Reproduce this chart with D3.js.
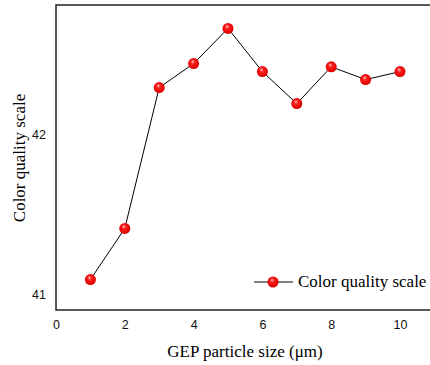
<!DOCTYPE html>
<html><head><meta charset="utf-8">
<script src="https://cdn.jsdelivr.net/npm/d3@7"></script>
<style>body{margin:0;background:#fff}svg{display:block}</style>
</head><body>
<svg id="c" width="430" height="365"></svg>
<script>
const sizes = [1,2,3,4,5,6,7,8,9,10];
const quality = [41.09,41.41,42.29,42.44,42.66,42.39,42.19,42.42,42.34,42.39];
const xTicks = [0,2,4,6,8,10];
const yTicks = [41,42];
const seriesName = "Color quality scale";
const xTitle = "GEP particle size (\u03bcm)";
const yTitle = "Color quality scale";

const svg = d3.select("#c");
const L = 56, T = 5, B = 310;
const x = d3.scaleLinear().domain([0,10]).range([L,400]);
const y = d3.scaleLinear().domain([41,42]).range([294,134]);

const defs = svg.append("defs");
const g = defs.append("radialGradient").attr("id","ball").attr("cx","0.5").attr("cy","0.5").attr("r","0.6").attr("fx","0.4").attr("fy","0.3");
g.append("stop").attr("offset","0").attr("stop-color","#ffd0d0");
g.append("stop").attr("offset","0.3").attr("stop-color","#ff2020");
g.append("stop").attr("offset","0.8").attr("stop-color","#e00000");
g.append("stop").attr("offset","1").attr("stop-color","#b00000");

// frame
svg.append("rect").attr("x",L).attr("y",T).attr("width",440-L).attr("height",B-T)
  .attr("fill","none").attr("stroke","#222").attr("stroke-width",1.5);

// axes (labels only)
const xAxis = d3.axisBottom(x).tickValues(xTicks).tickSize(0).tickPadding(10).tickFormat(d3.format("d"));
const gx = svg.append("g").attr("transform",`translate(0,${B})`).call(xAxis);
gx.select(".domain").remove();
gx.selectAll("text").attr("font-family","Liberation Sans, Arial, sans-serif").attr("font-size",12.5).attr("fill","#111");

const yAxis = d3.axisLeft(y).tickValues(yTicks).tickSize(0).tickPadding(10).tickFormat(d3.format("d"));
const gy = svg.append("g").attr("transform",`translate(${L},0)`).call(yAxis);
gy.select(".domain").remove();
gy.selectAll("text").attr("font-family","Liberation Sans, Arial, sans-serif").attr("font-size",12.5).attr("fill","#111");

// line
const line = d3.line().x((d,i)=>x(sizes[i])).y(d=>y(d));
svg.append("path").datum(quality).attr("d",line).attr("fill","none").attr("stroke","#000").attr("stroke-width",1);

svg.selectAll("circle.pt").data(quality).enter().append("circle").attr("class","pt")
  .attr("cx",(d,i)=>x(sizes[i])).attr("cy",d=>y(d)).attr("r",5.5).attr("fill","url(#ball)");

// titles
svg.append("text").attr("x",245).attr("y",357).attr("text-anchor","middle")
  .attr("font-family","Liberation Serif, Times New Roman, serif").attr("font-size",17).text(xTitle);
svg.append("text").attr("transform","translate(25,158) rotate(-90)").attr("text-anchor","middle")
  .attr("font-family","Liberation Serif, Times New Roman, serif").attr("font-size",17).text(yTitle);

// legend
const ly = 282;
svg.append("line").attr("x1",254).attr("x2",293).attr("y1",ly).attr("y2",ly).attr("stroke","#000").attr("stroke-width",1);
svg.append("circle").attr("cx",273).attr("cy",ly).attr("r",5.5).attr("fill","url(#ball)");
svg.append("text").attr("x",298).attr("y",ly+5).attr("font-family","Liberation Serif, Times New Roman, serif").attr("font-size",17).text(seriesName);
</script>
</body></html>
